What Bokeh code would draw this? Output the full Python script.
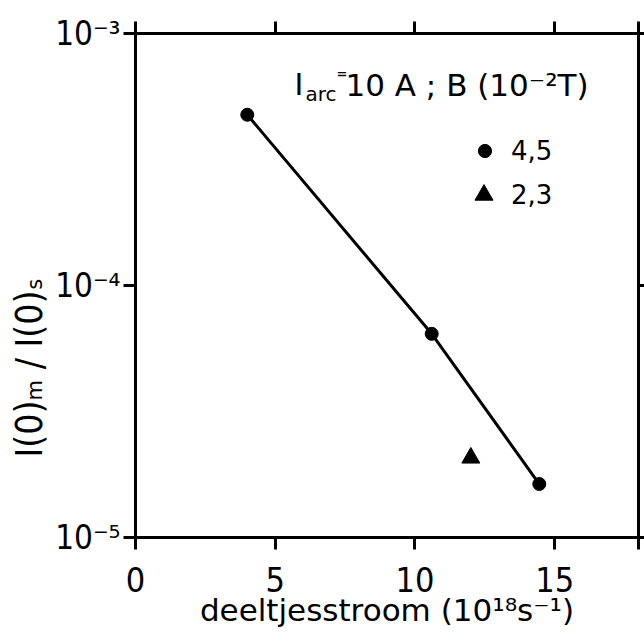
import math
from bokeh.plotting import figure
from bokeh.models import (LinearAxis, LogAxis, FixedTicker, CustomJSTickFormatter,
                          Label, Legend, LegendItem, Range1d, Title)
from bokeh.embed import file_html
from bokeh.resources import INLINE

# ---- data ----
circ_x = [4.0, 10.6, 14.45]           # B = 4,5 (10^-2 T)
circ_y = [4.76e-4, 6.43e-5, 1.63e-5]
tri_x = [12.0]                         # B = 2,3 (10^-2 T)
tri_y = [2.07e-5]
fit_x = [4.0, 10.6, 14.45]             # drawn line through the circles
fit_y = [4.76e-4, 6.43e-5, 1.63e-5]

x_ticks = [0, 5, 10, 15, 18]
x_tick_labels = ["0", "5", "10", "15", ""]
y_ticks = [1e-5, 1e-4, 1e-3]
y_tick_exps = [-5, -4, -3]
y_tick_labels = ["10\u207b\u2075", "10\u207b\u2074", "10\u207b\u00b3"]
legend_labels = ["4,5", "2,3"]
y_label = "I(0)\u2098 / I(0)\u209b"
x_label = "deeltjesstroom (10\u00b9\u2078s\u207b\u00b9)"

NUM_FONT = "DejaVu Sans Condensed"
TXT_FONT = "DejaVu Sans"
NARROW_FONT = "DejaVu Sans Condensed"

p = figure(width=644, height=642, y_axis_type="log",
           x_range=Range1d(0, 18), y_range=Range1d(1e-5, 1e-3),
           output_backend="svg", toolbar_location=None,
           min_border_left=135, min_border_top=33, min_border_bottom=105,
           min_border_right=6)
p.grid.visible = False
p.outline_line_color = "black"
p.outline_line_width = 3
p.background_fill_color = "white"
p.border_fill_color = "white"

def style_axis(ax, size="34px"):
    ax.axis_line_width = 3
    ax.axis_line_color = "black"
    ax.major_tick_line_width = 3
    ax.major_tick_line_color = "black"
    ax.major_tick_in = 0
    ax.major_tick_out = 12
    ax.minor_tick_in = 0
    ax.minor_tick_out = 0
    ax.major_label_text_font = NUM_FONT
    ax.major_label_text_font_size = size
    ax.major_label_text_color = "black"

xfmt = CustomJSTickFormatter(args=dict(vals=x_ticks, labs=x_tick_labels), code="""
    for (let i = 0; i < vals.length; i++) { if (Math.abs(vals[i] - tick) < 1e-9) return labs[i]; }
    return "";
""")
yfmt = CustomJSTickFormatter(args=dict(exps=y_tick_exps, labs=y_tick_labels), code="""
    const e = Math.round(Math.log10(tick));
    for (let i = 0; i < exps.length; i++) { if (exps[i] == e) return labs[i]; }
    return "";
""")

xa = p.xaxis[0]
style_axis(xa)
xa.ticker = FixedTicker(ticks=x_ticks)
xa.formatter = xfmt
xa.major_label_standoff = 17
xa.axis_label = x_label
xa.axis_label_text_font = TXT_FONT
xa.axis_label_text_font_size = "31px"
xa.axis_label_text_font_style = "normal"
xa.axis_label_text_color = "black"
xa.axis_label_standoff = -3

ya = p.yaxis[0]
style_axis(ya, "33px")
ya.ticker = FixedTicker(ticks=y_ticks)
ya.formatter = yfmt
ya.major_label_standoff = 3

top = LinearAxis(ticker=FixedTicker(ticks=x_ticks), formatter=CustomJSTickFormatter(code="return '';"))
style_axis(top, "0px")
top.major_label_standoff = 0
p.add_layout(top, "above")

right = LogAxis(ticker=FixedTicker(ticks=y_ticks), formatter=CustomJSTickFormatter(code="return '';"))
style_axis(right, "0px")
right.major_tick_out = 6
right.major_label_standoff = 0
p.add_layout(right, "right")

# y axis label as a vertical title in the left panel (offset up from the frame bottom)
p.add_layout(Title(text=y_label, align="left", offset=80, standoff=4,
                   text_font=NARROW_FONT, text_font_size="37px",
                   text_font_style="normal", text_color="black"), "left")

# data
p.line(fit_x, fit_y, line_color="black", line_width=3)
r_c = p.scatter(circ_x, circ_y, marker="circle", size=13, fill_color="black", line_color="black")
r_t = p.scatter(tri_x, tri_y, marker="triangle", size=18, fill_color="black", line_color="black")

# legends (two, so marker sizes can differ)
leg1 = Legend(items=[LegendItem(label=legend_labels[0], renderers=[r_c])],
              location=(333, 370), padding=0, margin=0, spacing=0,
              glyph_width=33, glyph_height=33, label_standoff=10,
              label_text_font=TXT_FONT, label_text_font_size="26px",
              label_text_color="black",
              border_line_color=None, background_fill_alpha=0)
leg2 = Legend(items=[LegendItem(label=legend_labels[1], renderers=[r_t])],
              location=(326, 320), padding=0, margin=0, spacing=0,
              glyph_width=45, glyph_height=45, label_standoff=5,
              label_text_font=TXT_FONT, label_text_font_size="26px",
              label_text_color="black",
              border_line_color=None, background_fill_alpha=0)
p.add_layout(leg1)
p.add_layout(leg2)

FL, FB = 135, 537  # frame left / bottom in page pixels
def lab(text, px, py, size, font=TXT_FONT, style="normal"):
    p.add_layout(Label(x=px - FL, y=FB - py, x_units="screen", y_units="screen",
                       text=text, text_font=font, text_font_size=size,
                       text_font_style=style,
                       text_align="left", text_baseline="alphabetic",
                       text_color="black"))

# legend title: I_arc=10 A ; B (10^-2 T)
lab("I", 294, 84, "30px")
lab("arc", 305, 93, "20px")
lab("=", 336, 73, "13px", style="bold")
lab("10 A ; B (10\u207b\u00b2T)", 345, 84, "31px")

open("out.html", "w").write(file_html(p, INLINE))
